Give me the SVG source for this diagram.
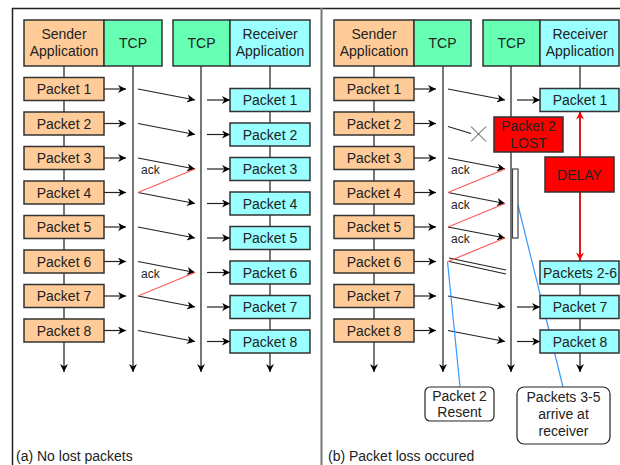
<svg xmlns="http://www.w3.org/2000/svg" width="620" height="465" viewBox="0 0 620 465">
<defs>
<marker id="ah" viewBox="0 0 10 10" refX="10" refY="5" markerWidth="9" markerHeight="8" markerUnits="userSpaceOnUse" orient="auto"><path d="M0,0 L10,5 L0,10 L3,5 z" fill="#000"/></marker>
<marker id="ahr" viewBox="0 0 10 10" refX="10" refY="5" markerWidth="9" markerHeight="8" markerUnits="userSpaceOnUse" orient="auto"><path d="M0,0 L10,5 L0,10 L3,5 z" fill="#f00"/></marker>
<style>
text{font-family:"Liberation Sans",Arial,sans-serif;font-size:14px;fill:#222;text-anchor:middle}
.cap{text-anchor:start}
.ack{font-size:12px;text-anchor:start}
.snd{fill:#FFCC99;stroke:#333;stroke-width:1.5}
.tcp{fill:#66FFB3;stroke:#333;stroke-width:1.5}
.rcv{fill:#99FFFF;stroke:#333;stroke-width:1.5}
.red{fill:#FF0000;stroke:#333;stroke-width:1.5}
.call{fill:#fff;stroke:#222;stroke-width:1.2}
.life{stroke:#777;stroke-width:2;fill:none}
.msg{stroke:#222;stroke-width:1.2;fill:none}
.ackl{stroke:#FF5A5A;stroke-width:1.2;fill:none}
.blue{stroke:#3399FF;stroke-width:1.2;fill:none}
.delay{stroke:#f00;stroke-width:1.5;fill:none}
</style>
</defs>
<rect width="620" height="465" fill="#fff"/>
<g id="frame">
<line x1="12" y1="8.5" x2="620" y2="8.5" stroke="#222" stroke-width="1.5"/>
<line x1="12.5" y1="8" x2="12.5" y2="465" stroke="#222" stroke-width="1.5"/>
<line x1="321.5" y1="8" x2="321.5" y2="465" stroke="#777" stroke-width="2"/>
</g>
<g id="connectors">
<g class="life" marker-end="url(#ah)">
<line x1="64" y1="66" x2="64" y2="372"/><line x1="133" y1="66" x2="133" y2="372"/><line x1="201" y1="66" x2="201" y2="372"/><line x1="270" y1="66" x2="270" y2="372"/>
<line x1="374" y1="66" x2="374" y2="372"/><line x1="443" y1="66" x2="443" y2="372"/><line x1="511" y1="66" x2="511" y2="372"/><line x1="580" y1="66" x2="580" y2="372"/>
</g>
<g class="msg" marker-end="url(#ah)">
<line x1="104" y1="89" x2="126" y2="89"/><line x1="104" y1="123.5" x2="126" y2="123.5"/><line x1="104" y1="158" x2="126" y2="158"/><line x1="104" y1="192.5" x2="126" y2="192.5"/><line x1="104" y1="227" x2="126" y2="227"/><line x1="104" y1="261.5" x2="126" y2="261.5"/><line x1="104" y1="296" x2="126" y2="296"/><line x1="104" y1="330.5" x2="126" y2="330.5"/>
<line x1="138" y1="89" x2="195" y2="100"/><line x1="138" y1="123.5" x2="195" y2="134.5"/><line x1="138" y1="158" x2="195" y2="169"/><line x1="138" y1="192.5" x2="195" y2="203.5"/><line x1="138" y1="227" x2="195" y2="238"/><line x1="138" y1="261.5" x2="195" y2="272.5"/><line x1="138" y1="296" x2="195" y2="307"/><line x1="138" y1="330.5" x2="195" y2="341.5"/>
<line x1="207" y1="100" x2="230" y2="100"/><line x1="207" y1="134.5" x2="230" y2="134.5"/><line x1="207" y1="169" x2="230" y2="169"/><line x1="207" y1="203.5" x2="230" y2="203.5"/><line x1="207" y1="238" x2="230" y2="238"/><line x1="207" y1="272.5" x2="230" y2="272.5"/><line x1="207" y1="307" x2="230" y2="307"/><line x1="207" y1="341.5" x2="230" y2="341.5"/>
<line x1="414" y1="89" x2="436" y2="89"/><line x1="414" y1="123.5" x2="436" y2="123.5"/><line x1="414" y1="158" x2="436" y2="158"/><line x1="414" y1="192.5" x2="436" y2="192.5"/><line x1="414" y1="227" x2="436" y2="227"/><line x1="414" y1="261.5" x2="436" y2="261.5"/><line x1="414" y1="296" x2="436" y2="296"/><line x1="414" y1="330.5" x2="436" y2="330.5"/>
<line x1="448" y1="89" x2="505" y2="100"/><line x1="448" y1="158" x2="505" y2="169"/><line x1="448" y1="192.5" x2="505" y2="203.5"/><line x1="448" y1="227" x2="505" y2="238"/><line x1="448" y1="296" x2="505" y2="307"/><line x1="448" y1="330.5" x2="505" y2="341.5"/>
<line x1="517" y1="100" x2="540" y2="100"/><line x1="517" y1="307" x2="540" y2="307"/><line x1="517" y1="341.5" x2="540" y2="341.5"/>
</g>
<g class="msg">
<line x1="448" y1="126.5" x2="471" y2="133.5"/>
<line x1="471" y1="126.5" x2="486" y2="141.5" stroke="#444" stroke-width="1"/><line x1="486" y1="126.5" x2="471" y2="141.5" stroke="#444" stroke-width="1"/>
<line x1="449" y1="258" x2="506" y2="270"/><line x1="449" y1="261.5" x2="506" y2="274"/>
</g>
<g class="ackl">
<line x1="195" y1="169" x2="138" y2="192.5"/><line x1="195" y1="272.5" x2="138" y2="296"/>
<line x1="505" y1="169" x2="448" y2="192.5"/><line x1="505" y1="203.5" x2="448" y2="227"/><line x1="505" y1="238" x2="448" y2="261.5"/>
</g>
<g class="delay" marker-end="url(#ahr)">
<line x1="580" y1="157" x2="580" y2="111.5"/><line x1="580" y1="192" x2="580" y2="260.5"/>
</g>
<g class="blue">
<line x1="447.5" y1="261.5" x2="460" y2="387"/><line x1="517.5" y1="203" x2="563" y2="387"/>
</g>
<text class="ack" x="141" y="174">ack</text><text class="ack" x="141" y="277.5">ack</text>
<text class="ack" x="451" y="174">ack</text><text class="ack" x="451" y="208.5">ack</text><text class="ack" x="451" y="243">ack</text>
</g>
<g id="a-sender-app"><rect class="snd" x="24" y="20" width="80" height="46"/><text x="64" y="39">Sender</text><text x="64" y="56">Application</text></g>
<g id="a-sender-tcp"><rect class="tcp" x="104" y="20" width="58" height="46"/><text x="133" y="48">TCP</text></g>
<g id="a-recv-tcp"><rect class="tcp" x="173" y="20" width="57" height="46"/><text x="201.5" y="48">TCP</text></g>
<g id="a-recv-app"><rect class="rcv" x="230" y="20" width="80" height="46"/><text x="270" y="39">Receiver</text><text x="270" y="56">Application</text></g>
<g id="a-s1"><rect class="snd" x="24" y="77.5" width="80" height="23"/><text x="64" y="94">Packet 1</text></g>
<g id="a-s2"><rect class="snd" x="24" y="112" width="80" height="23"/><text x="64" y="128.5">Packet 2</text></g>
<g id="a-s3"><rect class="snd" x="24" y="146.5" width="80" height="23"/><text x="64" y="163">Packet 3</text></g>
<g id="a-s4"><rect class="snd" x="24" y="181" width="80" height="23"/><text x="64" y="197.5">Packet 4</text></g>
<g id="a-s5"><rect class="snd" x="24" y="215.5" width="80" height="23"/><text x="64" y="232">Packet 5</text></g>
<g id="a-s6"><rect class="snd" x="24" y="250" width="80" height="23"/><text x="64" y="266.5">Packet 6</text></g>
<g id="a-s7"><rect class="snd" x="24" y="284.5" width="80" height="23"/><text x="64" y="301">Packet 7</text></g>
<g id="a-s8"><rect class="snd" x="24" y="319" width="80" height="23"/><text x="64" y="335.5">Packet 8</text></g>
<g id="a-r1"><rect class="rcv" x="230" y="88.5" width="80" height="23"/><text x="270" y="105">Packet 1</text></g>
<g id="a-r2"><rect class="rcv" x="230" y="123" width="80" height="23"/><text x="270" y="139.5">Packet 2</text></g>
<g id="a-r3"><rect class="rcv" x="230" y="157.5" width="80" height="23"/><text x="270" y="174">Packet 3</text></g>
<g id="a-r4"><rect class="rcv" x="230" y="192" width="80" height="23"/><text x="270" y="208.5">Packet 4</text></g>
<g id="a-r5"><rect class="rcv" x="230" y="226.5" width="80" height="23"/><text x="270" y="243">Packet 5</text></g>
<g id="a-r6"><rect class="rcv" x="230" y="261" width="80" height="23"/><text x="270" y="277.5">Packet 6</text></g>
<g id="a-r7"><rect class="rcv" x="230" y="295.5" width="80" height="23"/><text x="270" y="312">Packet 7</text></g>
<g id="a-r8"><rect class="rcv" x="230" y="330" width="80" height="23"/><text x="270" y="346.5">Packet 8</text></g>
<g id="a-caption"><text class="cap" x="16" y="460.5">(a) No lost packets</text></g>
<g id="b-sender-app"><rect class="snd" x="334" y="20" width="80" height="46"/><text x="374" y="39">Sender</text><text x="374" y="56">Application</text></g>
<g id="b-sender-tcp"><rect class="tcp" x="414" y="20" width="57" height="46"/><text x="442.5" y="48">TCP</text></g>
<g id="b-recv-tcp"><rect class="tcp" x="483" y="20" width="57" height="46"/><text x="511.5" y="48">TCP</text></g>
<g id="b-recv-app"><rect class="rcv" x="540" y="20" width="79" height="46"/><text x="580" y="39">Receiver</text><text x="580" y="56">Application</text></g>
<g id="b-s1"><rect class="snd" x="334" y="77.5" width="80" height="23"/><text x="374" y="94">Packet 1</text></g>
<g id="b-s2"><rect class="snd" x="334" y="112" width="80" height="23"/><text x="374" y="128.5">Packet 2</text></g>
<g id="b-s3"><rect class="snd" x="334" y="146.5" width="80" height="23"/><text x="374" y="163">Packet 3</text></g>
<g id="b-s4"><rect class="snd" x="334" y="181" width="80" height="23"/><text x="374" y="197.5">Packet 4</text></g>
<g id="b-s5"><rect class="snd" x="334" y="215.5" width="80" height="23"/><text x="374" y="232">Packet 5</text></g>
<g id="b-s6"><rect class="snd" x="334" y="250" width="80" height="23"/><text x="374" y="266.5">Packet 6</text></g>
<g id="b-s7"><rect class="snd" x="334" y="284.5" width="80" height="23"/><text x="374" y="301">Packet 7</text></g>
<g id="b-s8"><rect class="snd" x="334" y="319" width="80" height="23"/><text x="374" y="335.5">Packet 8</text></g>
<g id="b-buffer"><rect x="512.5" y="169" width="5.5" height="69" fill="#fff" stroke="#444" stroke-width="1.2"/></g>
<g id="b-lost"><rect class="red" x="494" y="117" width="69" height="35"/><text x="528.5" y="131">Packet 2</text><text x="528.5" y="147.5">LOST</text></g>
<g id="b-delay"><rect class="red" x="545" y="157" width="69" height="35"/><text x="579.5" y="179.5">DELAY</text></g>
<g id="b-r1"><rect class="rcv" x="540" y="88.5" width="79" height="23"/><text x="580" y="105">Packet 1</text></g>
<g id="b-r26"><rect class="rcv" x="540" y="261" width="79" height="23"/><text x="580" y="277.5">Packets 2-6</text></g>
<g id="b-r7"><rect class="rcv" x="540" y="295.5" width="79" height="23"/><text x="580" y="312">Packet 7</text></g>
<g id="b-r8"><rect class="rcv" x="540" y="330" width="79" height="23"/><text x="580" y="346.5">Packet 8</text></g>
<g id="b-resent"><rect class="call" x="425" y="387" width="69" height="34" rx="5"/><text x="459.5" y="400.5">Packet 2</text><text x="459.5" y="417">Resent</text></g>
<g id="b-arrive"><rect class="call" x="517" y="387" width="93" height="57" rx="7"/><text x="563.5" y="402">Packets 3-5</text><text x="563.5" y="419">arrive at</text><text x="563.5" y="436">receiver</text></g>
<g id="b-caption"><text class="cap" x="328" y="460.5">(b) Packet loss occured</text></g>
</svg>
